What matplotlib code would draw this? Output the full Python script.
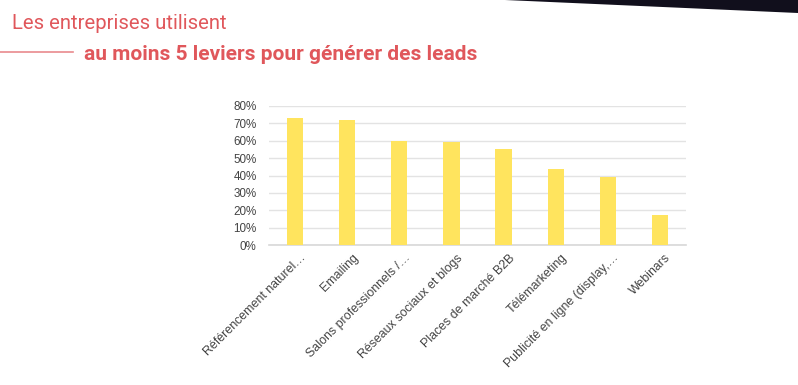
import matplotlib
matplotlib.use('Agg')
import matplotlib.pyplot as plt
import matplotlib.ticker as ticker
import matplotlib.transforms as mtransforms
from matplotlib.patches import Polygon
from matplotlib.lines import Line2D

leviers = ['Référencement naturel…', 'Emailing', 'Salons professionnels /…',
           'Réseaux sociaux et blogs', 'Places de marché B2B', 'Télémarketing',
           'Publicité en ligne (display,…', 'Webinars']
pourcentages = [73, 72, 60, 59, 55, 44, 39, 17]
titre1 = 'Les entreprises utilisent'
titre2 = 'au moins 5 leviers pour générer des leads'

rouge = '#e0575b'
jaune = '#ffe45e'

plt.rcParams['font.family'] = ['Liberation Sans', 'DejaVu Sans']

fig = plt.figure(figsize=(7.98, 3.85), dpi=100)
ax = fig.add_axes([269 / 798, 1 - 245 / 385, (686 - 269) / 798, (245 - 106) / 385])

x = range(len(leviers))
ax.bar(x, pourcentages, width=0.31, color=jaune, zorder=3)
ax.set_ylim(0, 80)
ax.set_xlim(-0.5, len(leviers) - 0.5)
ax.yaxis.set_major_locator(ticker.MultipleLocator(10))
ax.yaxis.set_major_formatter(ticker.FuncFormatter(lambda v, p: f'{v:.0f}%'))
ax.grid(axis='y', color='#e3e3e3', linewidth=1, zorder=0)
for s in ('top', 'right', 'left'):
    ax.spines[s].set_visible(False)
ax.spines['bottom'].set_color('#d8d8d8')
ax.spines['bottom'].set_linewidth(1.2)
ax.tick_params(axis='y', length=0, pad=9, labelsize=8.4, labelcolor='#444444')
ax.tick_params(axis='x', length=0, pad=5, labelsize=8.9, labelcolor='#444444')
ax.set_xticks(list(x))
ax.set_xticklabels(leviers, rotation=45, ha='right', rotation_mode='anchor')
decal = mtransforms.ScaledTranslation(5 / 100, 0, fig.dpi_scale_trans)
for lab in ax.get_xticklabels():
    lab.set_transform(lab.get_transform() + decal)

# titres
fig.text(12 / 798, 1 - 29 / 385, titre1, color=rouge, fontsize=14.6,
         family=['Roboto', 'DejaVu Sans'], va='baseline')
fig.text(84 / 798, 1 - 60 / 385, titre2, color=rouge, fontsize=15, fontweight='bold',
         family=['Roboto', 'DejaVu Sans'], va='baseline')
fig.add_artist(Line2D([0, 73 / 798], [1 - 52 / 385] * 2, color='#e98a8e', linewidth=1.2,
                      transform=fig.transFigure))

# bandeau sombre en haut à droite
fig.add_artist(Polygon([[505 / 798, 1], [1, 1], [1, 1 - 13 / 385]], closed=True,
                       facecolor='#110f1c', edgecolor='none', transform=fig.transFigure))

fig.savefig('out.png')
